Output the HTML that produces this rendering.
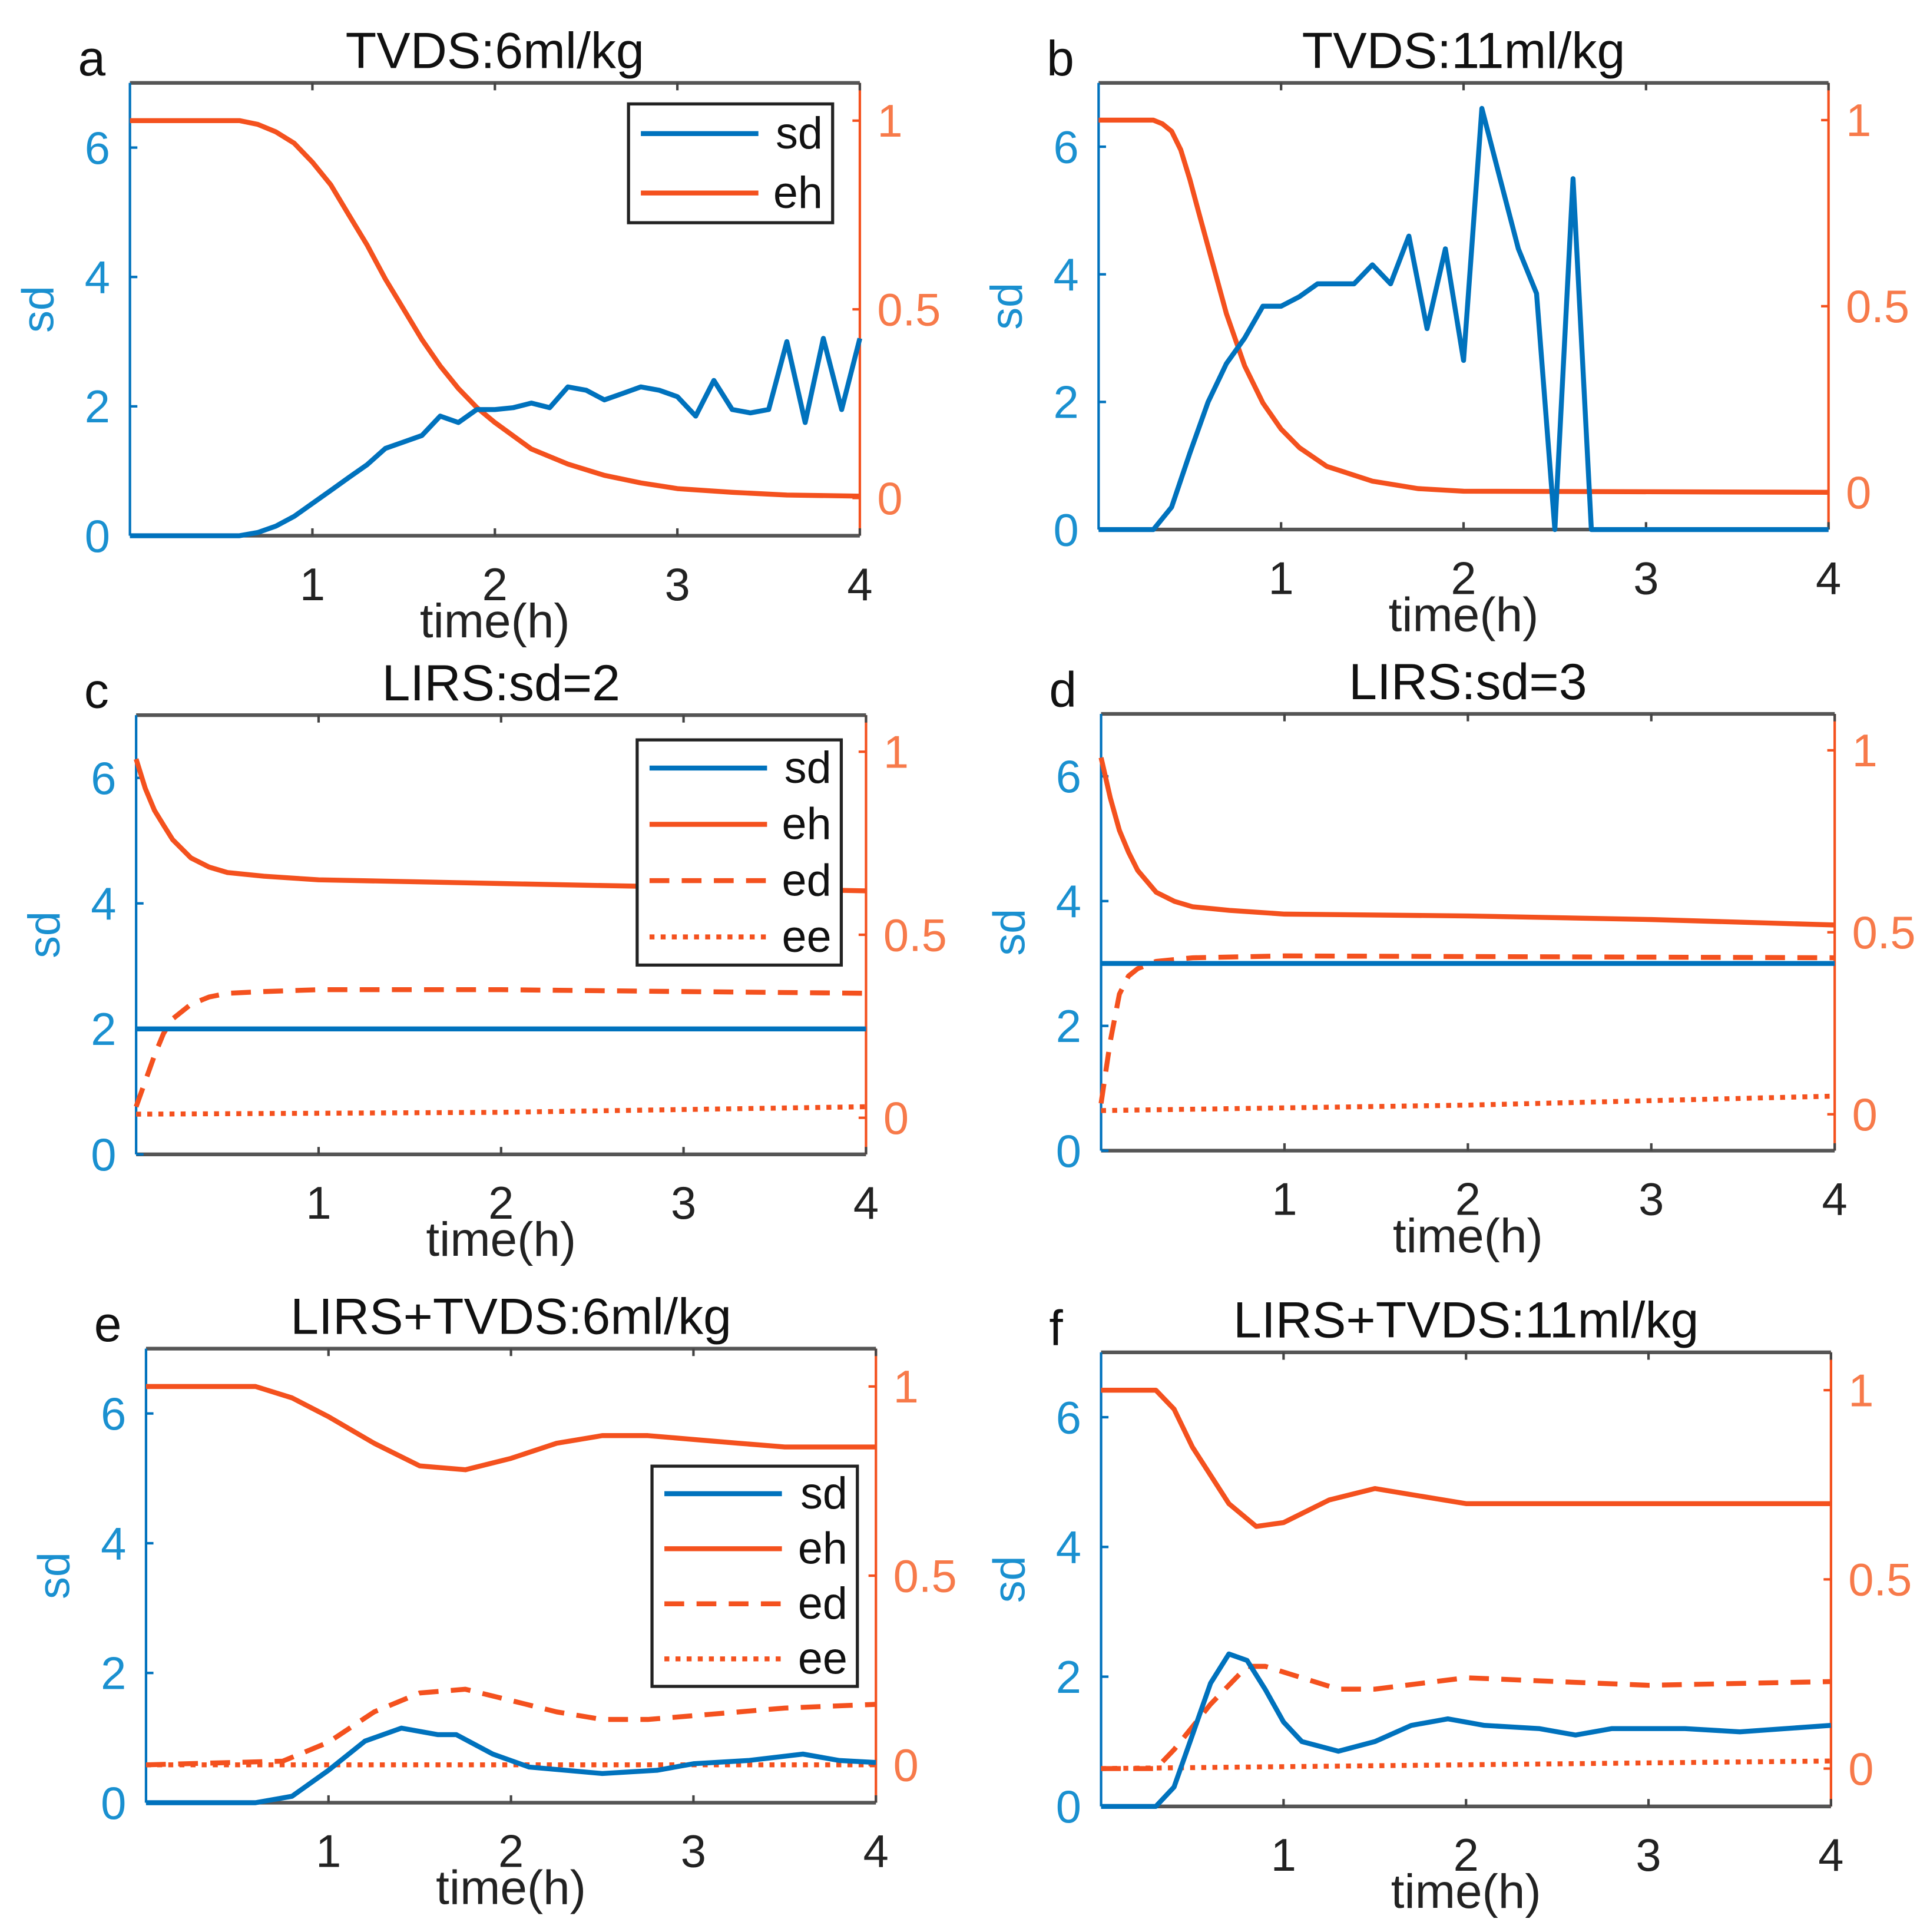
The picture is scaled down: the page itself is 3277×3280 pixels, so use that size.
<!DOCTYPE html>
<html><head><meta charset="utf-8"><style>
html,body{margin:0;padding:0;background:#fff}
svg{display:block}
text{font-family:"Liberation Sans",sans-serif}
</style></head><body>
<svg id="fig" width="3277" height="3280" viewBox="0 0 1560 1561.5" xmlns="http://www.w3.org/2000/svg"></svg>
<script>
// ---- data ----
const aSdT=[0,0.6,0.7,0.8,0.9,1.0,1.1,1.2,1.3,1.4,1.5,1.6,1.7,1.8,1.9,2.0,2.1,2.2,2.3,2.4,2.5,2.6,2.7,2.8,2.9,3.0,3.1,3.2,3.3,3.4,3.5,3.6,3.7,3.8,3.9,4.0];
const aSdV=[0,0,0.05,0.15,0.3,0.5,0.7,0.9,1.1,1.35,1.45,1.55,1.85,1.75,1.95,1.95,1.98,2.05,1.98,2.3,2.25,2.1,2.2,2.3,2.25,2.15,1.85,2.4,1.95,1.9,1.95,3.0,1.75,3.05,1.95,3.05];
const aEhT=[0,0.5,0.6,0.7,0.8,0.9,1,1.1,1.2,1.3,1.4,1.5,1.6,1.7,1.8,1.9,2,2.2,2.4,2.6,2.8,3,3.3,3.6,4];
const aEhV=[1,1,1,0.99,0.97,0.94,0.89,0.83,0.75,0.67,0.58,0.5,0.42,0.35,0.29,0.24,0.2,0.13,0.09,0.06,0.04,0.025,0.015,0.008,0.005];
const bSdT=[0,0.3,0.4,0.5,0.6,0.7,0.8,0.9,1.0,1.1,1.2,1.3,1.4,1.5,1.6,1.7,1.8,1.9,2.0,2.1,2.2,2.3,2.4,2.5,2.6,2.7,4.0];
const bSdV=[0,0,0.35,1.2,2.0,2.6,3.0,3.5,3.5,3.65,3.85,3.85,3.85,4.15,3.85,4.6,3.15,4.4,2.65,6.6,5.5,4.4,3.7,0,5.5,0,0];
const bEhT=[0,0.3,0.35,0.4,0.45,0.5,0.55,0.6,0.7,0.8,0.9,1.0,1.1,1.25,1.5,1.75,2,4];
const bEhV=[1,1,0.99,0.97,0.92,0.84,0.75,0.66,0.48,0.34,0.24,0.17,0.12,0.07,0.03,0.01,0.003,0];
const cSdT=[0,4]; const cSdV=[2,2];
const cEhT=[0,0.05,0.1,0.15,0.2,0.3,0.4,0.5,0.7,1,2,3,4]; const cEhV=[0.98,0.9,0.84,0.8,0.76,0.71,0.685,0.67,0.66,0.65,0.64,0.63,0.62];
const cEdT=[0,0.05,0.1,0.15,0.2,0.3,0.4,0.5,0.7,1,2,3,4]; const cEdV=[0.03,0.1,0.17,0.23,0.27,0.31,0.33,0.34,0.345,0.35,0.35,0.345,0.34];
const cEeT=[0,2,4]; const cEeV=[0.01,0.015,0.03];
const dSdT=[0,4]; const dSdV=[3,3];
const dEhT=[0,0.05,0.1,0.15,0.2,0.3,0.4,0.5,0.7,1,2,3,4]; const dEhV=[0.98,0.87,0.78,0.72,0.67,0.61,0.585,0.57,0.56,0.55,0.545,0.535,0.52];
const dEdT=[0,0.05,0.1,0.15,0.2,0.3,0.5,1,4]; const dEdV=[0.03,0.2,0.33,0.38,0.4,0.42,0.43,0.435,0.43];
const dEeT=[0,2,4]; const dEeV=[0.01,0.025,0.05];
const eSdT=[0,0.6,0.8,1.0,1.2,1.4,1.6,1.7,1.9,2.1,2.5,2.8,3.0,3.3,3.6,3.8,4.0];
const eSdV=[0,0,0.1,0.5,0.95,1.15,1.05,1.05,0.75,0.55,0.45,0.5,0.6,0.65,0.75,0.65,0.62];
const eEhT=[0,0.6,0.8,1,1.25,1.5,1.75,2,2.25,2.5,2.75,3,3.25,3.5,4];
const eEhV=[1,1,0.97,0.92,0.85,0.79,0.78,0.81,0.85,0.87,0.87,0.86,0.85,0.84,0.84];
const eEdT=[0,0.75,1,1.25,1.5,1.75,2,2.25,2.5,2.75,3,3.5,4];
const eEdV=[0,0.01,0.06,0.14,0.19,0.2,0.17,0.14,0.12,0.12,0.13,0.15,0.16];
const eEeT=[0,4]; const eEeV=[0,0];
const fSdT=[0,0.3,0.4,0.5,0.6,0.7,0.8,0.9,1.0,1.1,1.3,1.5,1.7,1.9,2.1,2.4,2.6,2.8,3.2,3.5,4];
const fSdV=[0,0,0.3,1.1,1.9,2.35,2.25,1.8,1.3,1.0,0.85,1.0,1.25,1.35,1.25,1.2,1.1,1.2,1.2,1.15,1.25];
const fEhT=[0,0.3,0.4,0.5,0.7,0.85,1,1.25,1.5,1.75,2,2.5,3,4];
const fEhV=[1,1,0.95,0.85,0.7,0.64,0.65,0.71,0.74,0.72,0.7,0.7,0.7,0.7];
const fEdT=[0,0.3,0.4,0.6,0.8,0.9,1.1,1.3,1.5,2,2.5,3,4];
const fEdV=[0,0,0.05,0.17,0.27,0.27,0.24,0.21,0.21,0.24,0.23,0.22,0.23];
const fEeT=[0,4]; const fEeV=[0,0.02];
const xTicks=[1,2,3,4]; const lTicks=[0,2,4,6]; const rTicks=[0,0.5,1];
const rTickLabels=["0","0.5","1"];

const panels=[
 {id:'a',title:'TVDS:6ml/kg',L:105,R:695,T:67,B:433,sd:[aSdT,aSdV],eh:[aEhT,aEhV],legend:[508,84,165,96]},
 {id:'b',title:'TVDS:11ml/kg',L:888,R:1478,T:67,B:428,sd:[bSdT,bSdV],eh:[bEhT,bEhV]},
 {id:'c',title:'LIRS:sd=2',L:110,R:700,T:578,B:933,sd:[cSdT,cSdV],eh:[cEhT,cEhV],ed:[cEdT,cEdV],ee:[cEeT,cEeV],legend:[515,598,165,182]},
 {id:'d',title:'LIRS:sd=3',L:890,R:1483,T:577,B:930,sd:[dSdT,dSdV],eh:[dEhT,dEhV],ed:[dEdT,dEdV],ee:[dEeT,dEeV]},
 {id:'e',title:'LIRS+TVDS:6ml/kg',L:118,R:708,T:1090,B:1457,sd:[eSdT,eSdV],eh:[eEhT,eEhV],ed:[eEdT,eEdV],ee:[eEeT,eEeV],legend:[527,1185,166,178]},
 {id:'f',title:'LIRS+TVDS:11ml/kg',L:890,R:1480,T:1093,B:1460,sd:[fSdT,fSdV],eh:[fEhT,fEhV],ed:[fEdT,fEdV],ee:[fEeT,fEeV]}
];
const NS='http://www.w3.org/2000/svg';
const svg=document.getElementById('fig');
const BLUE='#0072BD', ORANGE='#F4511E', BLT='#1a90d0', ORL='#f77a4a';
function mk(tag,attrs,parent,txt){const e=document.createElementNS(NS,tag);for(const k in attrs)e.setAttribute(k,attrs[k]);if(txt!==undefined)e.textContent=txt;(parent||svg).appendChild(e);return e;}
panels.forEach(p=>{
 const g=mk('g',{});
 
 
 const sx=t=>p.L+(p.R-p.L)*t/4;
 const syL=v=>p.B-(p.B-p.T)*v/7;
 const syR=v=>p.B-(p.B-p.T)*(v+0.1)/1.2;
 const top=mk('line',{x1:p.L,y1:p.T,x2:p.R,y2:p.T,stroke:'#555','stroke-width':3},g);
 
 
 const bot=mk('line',{x1:p.L,y1:p.B,x2:p.R,y2:p.B,stroke:'#555','stroke-width':3},g);
 
 
 const la=mk('line',{x1:p.L,y1:p.T,x2:p.L,y2:p.B,stroke:BLUE,'stroke-width':2},g);
 
 
 const ra=mk('line',{x1:p.R,y1:p.T,x2:p.R,y2:p.B,stroke:ORANGE,'stroke-width':2},g);
 
 
 xTicks.forEach(t=>{
  mk('line',{x1:sx(t),y1:p.B,x2:sx(t),y2:p.B-6,stroke:'#444','stroke-width':2},g);
  mk('line',{x1:sx(t),y1:p.T,x2:sx(t),y2:p.T+6,stroke:'#444','stroke-width':2},g);
  const tx=mk('text',{x:sx(t),y:p.B+52,'font-size':37,'text-anchor':'middle',fill:'#222'},g,String(t));
  
  
 });
 lTicks.forEach(v=>{
  mk('line',{x1:p.L,y1:syL(v),x2:p.L+6,y2:syL(v),stroke:BLUE,'stroke-width':2},g);
  const tx=mk('text',{x:p.L-16,y:syL(v)+13,'font-size':37,'text-anchor':'end',fill:BLT},g,String(v));
  
  
 });
 rTicks.forEach((v,i)=>{
  mk('line',{x1:p.R,y1:syR(v),x2:p.R-6,y2:syR(v),stroke:ORANGE,'stroke-width':2},g);
  const tx=mk('text',{x:p.R+14,y:syR(v)+13,'font-size':37,'text-anchor':'start',fill:ORL},g,rTickLabels[i]);
  
  
 });
 const yl=mk('text',{x:0,y:0,'font-size':36,'text-anchor':'middle',fill:BLT,transform:`translate(${p.L-62},${(p.T+p.B)/2}) rotate(-90)`},g,'sd');
 
 
 const xl=mk('text',{x:(p.L+p.R)/2,y:p.B+82,'font-size':39,'text-anchor':'middle',fill:'#222'},g,'time(h)');
 
 
 const ti=mk('text',{x:(p.L+p.R)/2,y:p.T-12,'font-size':41,'text-anchor':'middle',fill:'#111'},g,p.title);
 
 
 const lt=mk('text',{x:p.L-42,y:p.T-6,'font-size':40,'text-anchor':'start',fill:'#111'},g,p.id);
 
 
 const line=(d,sy,col,dash,name)=>{
  const pts=d[0].map((t,i)=>sx(t).toFixed(1)+','+sy(d[1][i]).toFixed(1)).join(' ');
  const a={points:pts,fill:'none',stroke:col,'stroke-width':4,'stroke-linejoin':'round'};
  if(dash)a['stroke-dasharray']=dash;
  const pl=mk('polyline',a,g);
  
  
 };
 if(p.ee) line(p.ee,syR,ORANGE,'4 5','ee-line');
 if(p.ed) line(p.ed,syR,ORANGE,'16 10','ed-line');
 line(p.eh,syR,ORANGE,null,'eh-line');
 line(p.sd,syL,BLUE,null,'sd-line');
 if(p.legend){
  const [lx,ly,lw,lh]=p.legend;
  const lg=mk('g',{},g);
  
  
  mk('rect',{x:lx,y:ly,width:lw,height:lh,fill:'#fff',stroke:'#222','stroke-width':2.5},lg);
  const items=[['sd',BLUE,null],['eh',ORANGE,null]];
  if(p.ed){items.push(['ed',ORANGE,'16 10']);items.push(['ee',ORANGE,'4 5']);}
  const step=lh/items.length;
  items.forEach((it,i)=>{
   const cy=ly+step*(i+0.5);
   const e=mk('g',{},lg);
   
   
   const a={x1:lx+10,y1:cy,x2:lx+105,y2:cy,stroke:it[1],'stroke-width':4};
   if(it[2])a['stroke-dasharray']=it[2];
   mk('line',a,e);
   mk('text',{x:lx+lw-8,y:cy+12,'font-size':36,'text-anchor':'end',fill:'#111'},e,it[0]);
  });
 }
});
</script>
</body></html>
